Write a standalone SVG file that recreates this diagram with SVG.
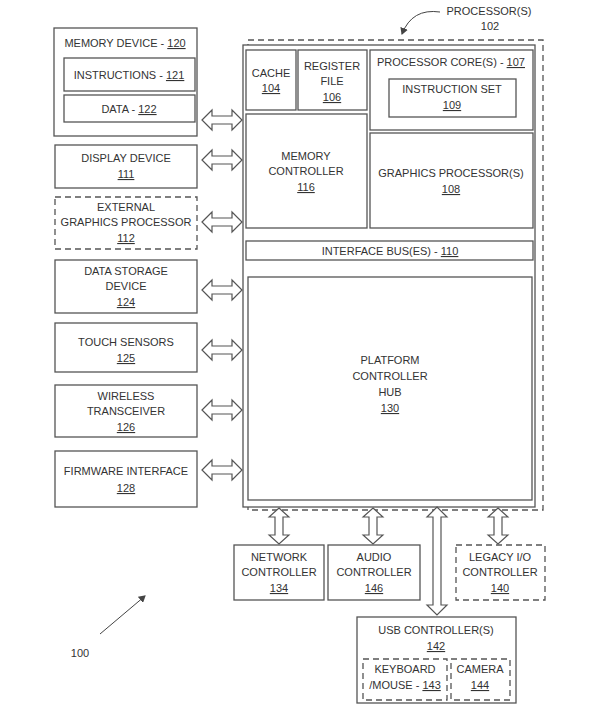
<svg xmlns="http://www.w3.org/2000/svg" xmlns:xlink="http://www.w3.org/1999/xlink" width="605" height="715" viewBox="0 0 605 715">
<style>
rect{fill:#fff;stroke:#555;stroke-width:1.3}
.d{stroke-dasharray:6,4}
text{font-family:"Liberation Sans",Arial,sans-serif;font-size:11px;fill:#333;text-anchor:middle}
.u{text-decoration:underline}
.a{fill:#fff;stroke:#555;stroke-width:1.2}
</style>
<defs>
<path id="h" class="a" d="M0,0 L10,-10 L10,-4 L30,-4 L30,-10 L40,0 L30,10 L30,4 L10,4 L10,10 Z"/>
<marker id="m" markerWidth="8" markerHeight="8" refX="6" refY="4" orient="auto"><path d="M0,0 L7,4 L0,8 Z" fill="#444"/></marker>
</defs>
<rect width="605" height="715" style="fill:#fff;stroke:none"/>
<g id="processor">
<rect class="d" x="248" y="40" width="295" height="470" style="fill:none"/>
<rect x="243" y="45" width="292" height="462"/>
<text x="489" y="15">PROCESSOR(S)</text><text x="490" y="30">102</text>
<path d="M440,12 Q412,8 402,34" fill="none" stroke="#444" marker-end="url(#m)"/>
</g>
<g id="cache"><rect x="246" y="50" width="50" height="60"/><text x="271" y="77">CACHE</text><text x="271" y="92" class="u">104</text></g>
<g id="regfile"><rect x="298" y="50" width="69" height="60"/><text x="332" y="70">REGISTER</text><text x="332" y="85">FILE</text><text x="332" y="101" class="u">106</text></g>
<g id="core"><rect x="370" y="50" width="163" height="80"/><text x="451" y="66">PROCESSOR CORE(S) - <tspan class="u">107</tspan></text>
<rect x="389" y="79" width="127" height="38"/><text x="452" y="93">INSTRUCTION SET</text><text x="452" y="109" class="u">109</text></g>
<g id="memctrl"><rect x="246" y="114" width="121" height="114"/><text x="306" y="160">MEMORY</text><text x="306" y="175">CONTROLLER</text><text x="306" y="191" class="u">116</text></g>
<g id="gfx"><rect x="370" y="133" width="163" height="95"/><text x="451" y="177">GRAPHICS PROCESSOR(S)</text><text x="451" y="193" class="u">108</text></g>
<g id="bus"><rect x="246" y="241" width="287" height="19"/><text x="390" y="255">INTERFACE BUS(ES) - <tspan class="u">110</tspan></text></g>
<g id="pch"><rect x="248" y="277" width="284" height="223"/><text x="390" y="364">PLATFORM</text><text x="390" y="380">CONTROLLER</text><text x="390" y="396">HUB</text><text x="390" y="412" class="u">130</text></g>
<g id="mem"><rect x="54" y="28" width="143" height="108"/><text x="125" y="47">MEMORY DEVICE - <tspan class="u">120</tspan></text>
<rect x="64" y="58" width="131" height="33"/><text x="129" y="79">INSTRUCTIONS - <tspan class="u">121</tspan></text>
<rect x="64" y="95" width="131" height="27"/><text x="129" y="113">DATA - <tspan class="u">122</tspan></text></g>
<g id="display"><rect x="55" y="145" width="142" height="43"/><text x="126" y="162">DISPLAY DEVICE</text><text x="126" y="178" class="u">111</text></g>
<g id="extgfx"><rect class="d" x="55" y="197" width="142" height="52"/><text x="126" y="211">EXTERNAL</text><text x="126" y="226">GRAPHICS PROCESSOR</text><text x="126" y="242" class="u">112</text></g>
<g id="storage"><rect x="55" y="260" width="142" height="53"/><text x="126" y="275">DATA STORAGE</text><text x="126" y="290">DEVICE</text><text x="126" y="306" class="u">124</text></g>
<g id="touch"><rect x="55" y="323" width="142" height="49"/><text x="126" y="346">TOUCH SENSORS</text><text x="126" y="362" class="u">125</text></g>
<g id="wireless"><rect x="55" y="385" width="142" height="52"/><text x="126" y="400">WIRELESS</text><text x="126" y="415">TRANSCEIVER</text><text x="126" y="431" class="u">126</text></g>
<g id="firmware"><rect x="55" y="451" width="142" height="56"/><text x="126" y="475">FIRMWARE INTERFACE</text><text x="126" y="492" class="u">128</text></g>
<g id="network"><rect x="234" y="545" width="90" height="55"/><text x="279" y="561">NETWORK</text><text x="279" y="576">CONTROLLER</text><text x="279" y="592" class="u">134</text></g>
<g id="audio"><rect x="328" y="545" width="92" height="55"/><text x="374" y="561">AUDIO</text><text x="374" y="576">CONTROLLER</text><text x="374" y="592" class="u">146</text></g>
<g id="legacy"><rect class="d" x="456" y="545" width="89" height="55"/><text x="500" y="561">LEGACY I/O</text><text x="500" y="576">CONTROLLER</text><text x="500" y="592" class="u">140</text></g>
<g id="usb"><rect x="357" y="617" width="159" height="86"/><text x="436" y="634">USB CONTROLLER(S)</text><text x="436" y="650" class="u">142</text>
<rect class="d" x="363" y="659" width="84" height="41"/><text x="405" y="673">KEYBOARD</text><text x="405" y="689">/MOUSE - <tspan class="u">143</tspan></text>
<rect class="d" x="451" y="659" width="59" height="41"/><text x="480" y="673">CAMERA</text><text x="480" y="689" class="u">144</text></g>
<g id="connectors">
<use xlink:href="#h" transform="translate(202,120)"/>
<use xlink:href="#h" transform="translate(202,160)"/>
<use xlink:href="#h" transform="translate(202,222)"/>
<use xlink:href="#h" transform="translate(202,290)"/>
<use xlink:href="#h" transform="translate(202,350)"/>
<use xlink:href="#h" transform="translate(202,410)"/>
<use xlink:href="#h" transform="translate(202,470)"/>
<use xlink:href="#h" transform="translate(279,508) rotate(90) scale(0.9,1)"/>
<use xlink:href="#h" transform="translate(373,508) rotate(90) scale(0.9,1)"/>
<use xlink:href="#h" transform="translate(498,508) rotate(90) scale(0.9,1)"/>
<path class="a" d="M437,507 L447,517 L441,517 L441,605 L447,605 L437,615 L427,605 L433,605 L433,517 L427,517 Z"/>
<path d="M100,634 L145,596" stroke="#444" fill="none" marker-end="url(#m)"/>
<text x="80" y="657">100</text>
</g>
</svg>
